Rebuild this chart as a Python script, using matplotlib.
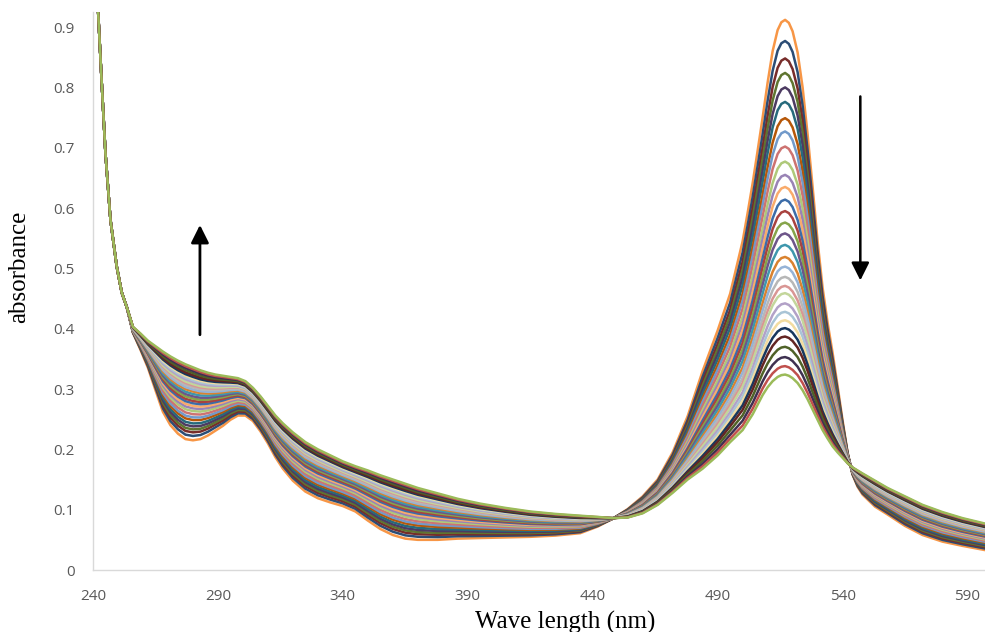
import numpy as np
import matplotlib
matplotlib.use("Agg")
import matplotlib.pyplot as plt

# wavelength grid (nm)
wavelength = [242, 243.5, 245, 247, 249.5, 251.5, 253.5, 256, 259, 262, 265, 268, 271, 274, 277,
              280, 283, 286, 289, 292, 295, 298, 301, 304, 307, 310, 313, 316, 320, 325, 330,
              335, 340, 345, 350, 355, 360, 365, 370, 378, 386, 395, 405, 415, 425, 435, 442,
              448, 454, 460, 466, 472, 478, 484, 490, 495, 500, 502, 504, 506, 508, 510, 512,
              514, 515.5, 517, 518.5, 520, 522, 524, 526, 528, 530, 532, 534, 536, 538, 540,
              542, 544, 546, 548, 553, 558, 565, 572, 580, 588, 597]

# first spectrum (highest visible band)
abs_first = [0.93, 0.807, 0.69, 0.58, 0.503, 0.46, 0.436, 0.393, 0.365, 0.335, 0.298, 0.262, 0.240,
             0.226, 0.217, 0.215, 0.217, 0.223, 0.231, 0.239, 0.249, 0.256, 0.256, 0.247, 0.230,
             0.210, 0.187, 0.168, 0.148, 0.130, 0.119, 0.112, 0.106, 0.097, 0.082, 0.068, 0.058,
             0.052, 0.050, 0.050, 0.052, 0.053, 0.054, 0.055, 0.057, 0.061, 0.072, 0.085, 0.101,
             0.122, 0.150, 0.195, 0.255, 0.330, 0.397, 0.458, 0.545, 0.592, 0.641, 0.695, 0.750,
             0.808, 0.860, 0.895, 0.908, 0.912, 0.907, 0.893, 0.858, 0.800, 0.722, 0.635, 0.545,
             0.468, 0.410, 0.360, 0.305, 0.248, 0.195, 0.158, 0.138, 0.125, 0.105, 0.092, 0.073,
             0.058, 0.047, 0.040, 0.033]

# last spectrum (lowest visible band)
abs_last = [0.93, 0.807, 0.69, 0.58, 0.503, 0.46, 0.436, 0.403, 0.392, 0.380, 0.371, 0.362, 0.354,
            0.347, 0.341, 0.336, 0.331, 0.327, 0.324, 0.322, 0.320, 0.318, 0.313, 0.302, 0.288,
            0.272, 0.256, 0.243, 0.228, 0.212, 0.200, 0.190, 0.180, 0.172, 0.165, 0.157, 0.150,
            0.143, 0.136, 0.127, 0.118, 0.110, 0.103, 0.097, 0.093, 0.090, 0.088, 0.086, 0.087,
            0.094, 0.108, 0.128, 0.150, 0.168, 0.190, 0.212, 0.232, 0.245, 0.258, 0.274, 0.290,
            0.303, 0.313, 0.320, 0.323, 0.324, 0.322, 0.318, 0.310, 0.298, 0.283, 0.266, 0.249,
            0.232, 0.218, 0.205, 0.195, 0.186, 0.177, 0.170, 0.165, 0.160, 0.148, 0.136, 0.122,
            0.108, 0.096, 0.086, 0.077]

# band maximum (517 nm) of every recorded spectrum, in recording order
peak_heights = [0.912, 0.877, 0.848, 0.824, 0.800, 0.776, 0.749, 0.727, 0.702, 0.677, 0.655,
                0.635, 0.614, 0.595, 0.576, 0.558, 0.539, 0.519, 0.503, 0.486, 0.471, 0.459,
                0.442, 0.428, 0.414, 0.401, 0.387, 0.370, 0.353, 0.338, 0.324]

series_colors = ["#F79646", "#2C4D75", "#772C2A", "#5F7530", "#4D3B62", "#276A7C", "#B65708",
                 "#729ACA", "#CD7371", "#AFC97A", "#9983B5", "#F9AB6B", "#3C6CA8", "#A9423F",
                 "#86A44A", "#6D5589", "#3E97AD", "#D9822F", "#95B3D7", "#B7B7B7", "#D99694",
                 "#C3D69B", "#B2A1C7", "#A9C4D6", "#F2DCA0", "#17375E", "#632523", "#4F6228",
                 "#3F3151", "#C0504D", "#9BBB59"]

x_ticks = [240, 290, 340, 390, 440, 490, 540, 590]
y_ticks = [0, 0.1, 0.2, 0.3, 0.4, 0.5, 0.6, 0.7, 0.8, 0.9]
y_tick_labels = ["0", "0.1", "0.2", "0.3", "0.4", "0.5", "0.6", "0.7", "0.8", "0.9"]

fig = plt.figure(figsize=(9.85, 6.32), dpi=100)
ax = fig.add_axes([93 / 985, 62 / 632, 892 / 985, 558 / 632])

wl = np.array(wavelength)
a0 = np.array(abs_first)
a1 = np.array(abs_last)
p0, p1 = peak_heights[0], peak_heights[-1]
for p, c in zip(peak_heights, series_colors):
    frac = (p0 - p) / (p0 - p1)
    ax.plot(wl, a0 + frac * (a1 - a0), color=c, lw=1.8, solid_joinstyle="round",
            solid_capstyle="round")

ax.set_xlim(240, 597)
ax.set_ylim(0, 0.925)
ax.set_xticks(x_ticks)
ax.set_yticks(y_ticks)
ax.set_yticklabels(y_tick_labels)
for s in ["top", "right"]:
    ax.spines[s].set_visible(False)
for s in ["left", "bottom"]:
    ax.spines[s].set_color("#D9D9D9")
    ax.spines[s].set_linewidth(1.0)
ax.tick_params(length=0, labelcolor="#595959", labelsize=11, pad=13)
ax.tick_params(axis="x", pad=14)
for lab in ax.get_xticklabels() + ax.get_yticklabels():
    lab.set_fontfamily("Open Sans")

# arrows
ax.annotate("", xy=(282.8, 0.572), xytext=(282.8, 0.39),
            arrowprops=dict(arrowstyle="-|>,head_length=0.4,head_width=0.2", color="black",
                            lw=2, mutation_scale=27, shrinkA=0, shrinkB=0))
ax.annotate("", xy=(547.1, 0.48), xytext=(547.1, 0.785),
            arrowprops=dict(arrowstyle="-|>,head_length=0.4,head_width=0.2", color="black",
                            lw=1.8, mutation_scale=27, shrinkA=0, shrinkB=0))

fig.text(565 / 985, 1 - 622 / 632, "Wave length (nm)", family="Liberation Serif", fontsize=18,
         ha="center", va="center", color="black")
fig.text(19 / 985, 1 - 267 / 632, "absorbance", family="Liberation Serif", fontsize=18,
         ha="center", va="center", rotation=90, color="black")

fig.savefig("out.png", dpi=100)
